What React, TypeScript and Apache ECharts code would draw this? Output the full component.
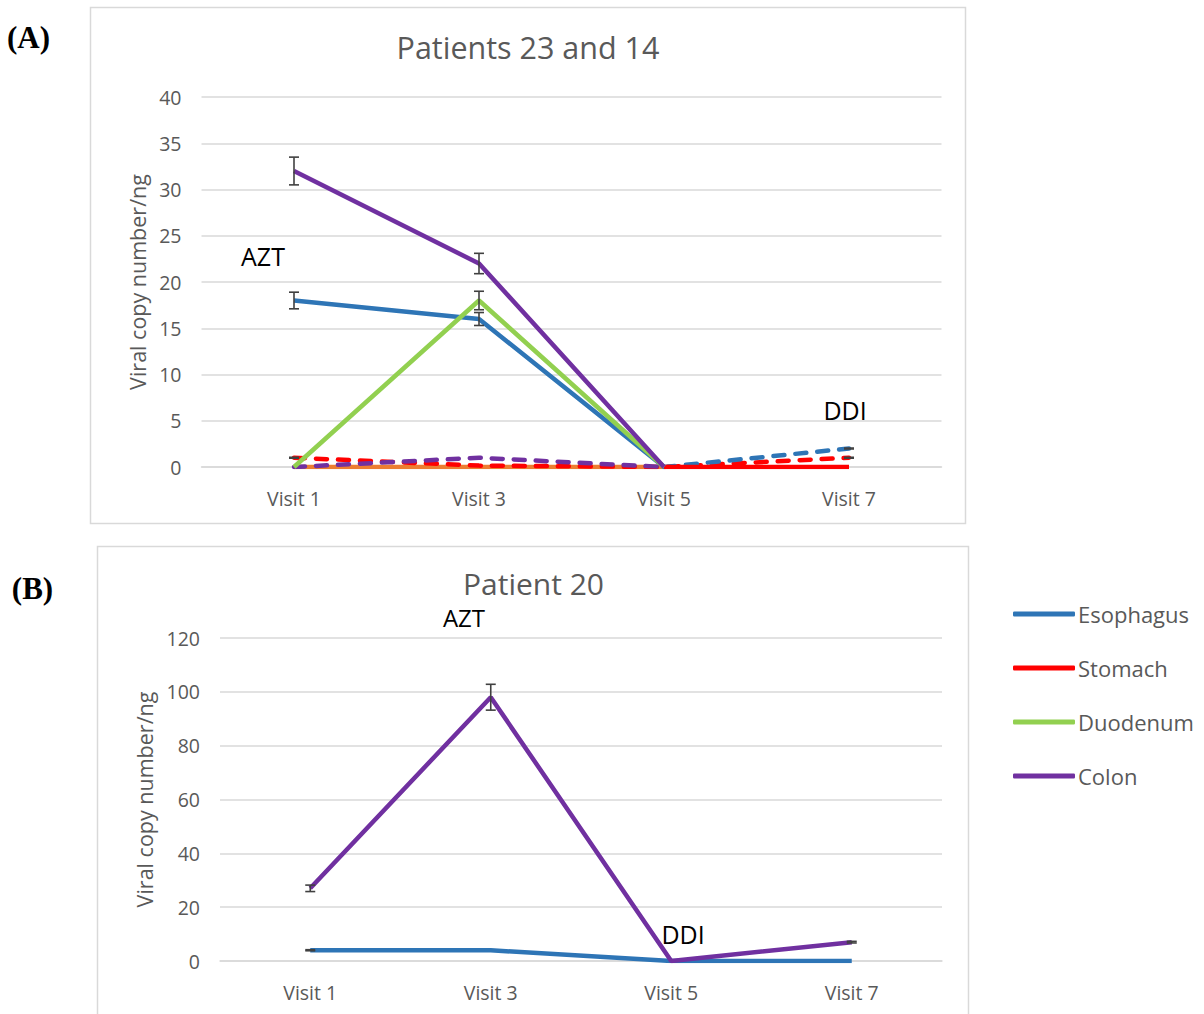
import React, { useEffect, useRef } from "react";
import * as echarts from "echarts";

const visits = ["Visit 1", "Visit 3", "Visit 5", "Visit 7"];
const legendNames = ["Esophagus", "Stomach", "Duodenum", "Colon"];

// Panel A: Patients 23 and 14
const esophagusA = [18, 16, 0, null];
const esophagusErrA = [0.9, 0.7, null, null];
const esophagusDdiA = [null, null, 0, 2];
const esophagusDdiErrA = [null, null, null, 0.05];
const stomachA = [null, null, 0, 0];
const stomachDdiA = [1, 0.15, 0, 1];
const stomachDdiErrA = [0.05, null, null, 0.05];
const duodenumA = [0, 18, 0, null];
const duodenumErrA = [null, 1, null, null];
const colonA = [32, 22, 0, null];
const colonErrA = [1.5, 1.1, null, null];
const colonDdiA = [0, 1, 0, null];
const otherA = [0, 0, 0, null];

// Panel B: Patient 20
const esophagusB = [4, 4, 0, 0];
const esophagusErrB = [0.2, null, null, null];
const colonB = [27, 98, 0, 7];
const colonErrB = [1.2, 4.8, null, 0.3];

const yTicksA = { min: 0, max: 40, interval: 5 };
const yTicksB = { min: 0, max: 120, interval: 20 };

const BLUE = "#2e75b6";
const RED = "#ff0000";
const GREEN = "#92d050";
const PURPLE = "#7030a0";
const ORANGE = "#ed7d31";
const GRAY = "#595959";
const FONT = "Open Sans";

function errData(vals: (number | null)[], errs: (number | null)[]) {
  const out: any[] = [];
  vals.forEach((v, i) => {
    const e = errs[i];
    if (v != null && e != null) out.push([i, v - e, v + e]);
  });
  return out;
}

function errSeries(axis: number, data: any[]) {
  return {
    type: "custom",
    xAxisIndex: axis,
    yAxisIndex: axis,
    z: 10,
    silent: true,
    data,
    renderItem: (_p: any, api: any) => {
      const x = api.value(0);
      const top = api.coord([x, api.value(2)]);
      const bot = api.coord([x, api.value(1)]);
      const w = 5;
      const st = { stroke: "#404040", lineWidth: 1.6 };
      return {
        type: "group",
        children: [
          { type: "line", shape: { x1: top[0], y1: top[1], x2: bot[0], y2: bot[1] }, style: st },
          { type: "line", shape: { x1: top[0] - w, y1: top[1], x2: top[0] + w, y2: top[1] }, style: st },
          { type: "line", shape: { x1: bot[0] - w, y1: bot[1], x2: bot[0] + w, y2: bot[1] }, style: st },
        ],
      };
    },
  };
}

function lineSeries(name: string, axis: number, data: any[], color: string, dashed = false, z = 2) {
  return {
    type: "line",
    name,
    xAxisIndex: axis,
    yAxisIndex: axis,
    data,
    z,
    showSymbol: false,
    symbol: "none",
    connectNulls: false,
    itemStyle: { color },
    lineStyle: dashed
      ? { color, width: 4.5, type: [11, 11], cap: "round" }
      : { color, width: 4.5 },
  };
}

function xAxis(gridIndex: number) {
  return {
    type: "category",
    gridIndex,
    data: visits,
    boundaryGap: true,
    axisLine: { lineStyle: { color: "#d9d9d9", width: 1.5 } },
    axisTick: { show: false },
    axisLabel: { color: GRAY, fontSize: 19.5, fontFamily: FONT, margin: 21 },
  };
}

function yAxis(gridIndex: number, ticks: any, nameGap: number) {
  return {
    type: "value",
    gridIndex,
    ...ticks,
    name: "Viral copy number/ng",
    nameLocation: "middle",
    nameGap,
    nameTextStyle: { color: GRAY, fontSize: 21.5, fontFamily: FONT },
    axisLine: { show: false },
    axisTick: { show: false },
    axisLabel: { color: GRAY, fontSize: 19.5, fontFamily: FONT, margin: 20 },
    splitLine: { lineStyle: { color: "#d9d9d9", width: 1.5 } },
  };
}

function txt(text: string, x: number, y: number, font: string, fill: string) {
  return { type: "text", x, y, z: 20, style: { text, fill, font, textAlign: "center", textVerticalAlign: "middle" } };
}

export default function App() {
  const ref = useRef<HTMLDivElement>(null);
  useEffect(() => {
    if (!ref.current) return;
    const chart = echarts.init(ref.current, null, { renderer: "svg" });
    const option: any = {
      animation: false,
      backgroundColor: "#ffffff",
      legend: {
        data: legendNames,
        orient: "vertical",
        left: 1008,
        top: 598,
        icon: "roundRect",
        itemWidth: 62,
        itemHeight: 5,
        itemGap: 32,
        textStyle: { color: GRAY, fontSize: 22, fontFamily: FONT, padding: [0, 0, 0, -2] },
      },
      grid: [
        { left: 201.5, top: 97, width: 740, height: 370 },
        { left: 220, top: 638, width: 722, height: 323 },
      ],
      xAxis: [xAxis(0), xAxis(1)],
      yAxis: [yAxis(0, yTicksA, 52), yAxis(1, yTicksB, 64)],
      graphic: [
        { type: "rect", shape: { x: 90.5, y: 7.5, width: 875, height: 516 }, style: { fill: "none", stroke: "#d9d9d9", lineWidth: 1.5 }, z: -1 },
        { type: "rect", shape: { x: 97.5, y: 546.5, width: 871, height: 500 }, style: { fill: "none", stroke: "#d9d9d9", lineWidth: 1.5 }, z: -1 },
        txt("Patients 23 and 14", 528, 47, `30.5px '${FONT}'`, GRAY),
        txt("Patient 20", 533.5, 583, `30px '${FONT}'`, GRAY),
        txt("(A)", 28.5, 37, "bold 31px 'Liberation Serif'", "#000"),
        txt("(B)", 32.5, 588, "bold 31px 'Liberation Serif'", "#000"),
        txt("AZT", 263, 256, `25px '${FONT}'`, "#000"),
        txt("DDI", 845, 410, `25px '${FONT}'`, "#000"),
        txt("AZT", 464, 617, `24px '${FONT}'`, "#000"),
        txt("DDI", 683, 934, `25px '${FONT}'`, "#000"),
      ],
      series: [
        lineSeries("Other", 0, otherA, ORANGE, false, 1),
        lineSeries("Stomach DDI", 0, stomachDdiA, RED, true, 2),
        lineSeries("Colon DDI", 0, colonDdiA, PURPLE, true, 3),
        lineSeries("Esophagus DDI", 0, esophagusDdiA, BLUE, true, 3),
        lineSeries("Stomach", 0, stomachA, RED, false, 4),
        lineSeries("Esophagus", 0, esophagusA, BLUE, false, 5),
        lineSeries("Duodenum", 0, duodenumA, GREEN, false, 6),
        lineSeries("Colon", 0, colonA, PURPLE, false, 7),
        errSeries(0, [
          ...errData(esophagusA, esophagusErrA),
          ...errData(esophagusDdiA, esophagusDdiErrA),
          ...errData(stomachDdiA, stomachDdiErrA),
          ...errData(duodenumA, duodenumErrA),
          ...errData(colonA, colonErrA),
        ]),
        lineSeries("Esophagus", 1, esophagusB, BLUE, false, 5),
        lineSeries("Colon", 1, colonB, PURPLE, false, 7),
        errSeries(1, [...errData(esophagusB, esophagusErrB), ...errData(colonB, colonErrB)]),
      ],
    };
    chart.setOption(option);
    return () => chart.dispose();
  }, []);
  return (
    <div
      ref={ref}
      style={{ position: "fixed", left: 0, top: 0, width: 1204, height: 1014, background: "#fff" }}
    />
  );
}
